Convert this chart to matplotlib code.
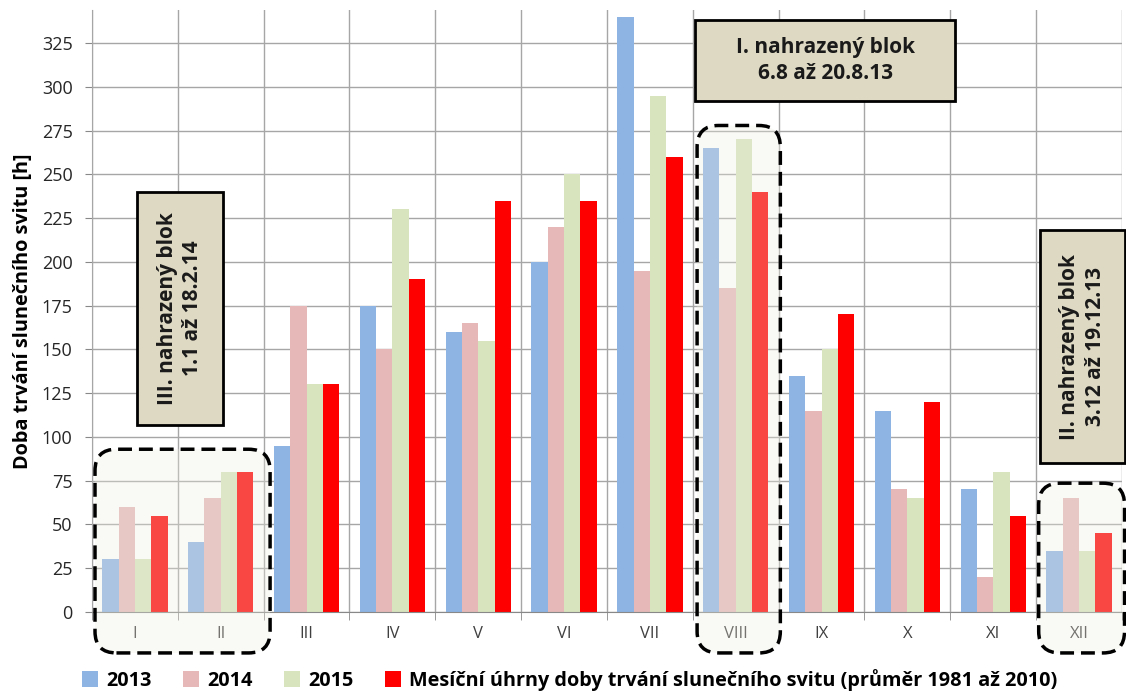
import numpy as np
import matplotlib
matplotlib.use("Agg")
import matplotlib.pyplot as plt
from matplotlib.patches import FancyBboxPatch, Rectangle

plt.rcParams['font.family'] = ['Open Sans', 'DejaVu Sans']

# data
months = ['I', 'II', 'III', 'IV', 'V', 'VI', 'VII', 'VIII', 'IX', 'X', 'XI', 'XII']
y2013 = [30, 40, 95, 175, 160, 200, 340, 265, 135, 115, 70, 35]
y2014 = [60, 65, 175, 150, 165, 220, 195, 185, 115, 70, 20, 65]
y2015 = [30, 80, 130, 230, 155, 250, 295, 270, 150, 65, 80, 35]
prumer = [55, 80, 130, 190, 235, 235, 260, 240, 170, 120, 55, 45]
labels = ['2013', '2014', '2015',
          'Mesíční úhrny doby trvání slunečního svitu (průměr 1981 až 2010)']
colors = ['#8EB4E3', '#E6B9B8', '#D7E4BD', '#FF0000']

fig = plt.figure(figsize=(11.26, 6.93), dpi=100)
ax = fig.add_axes([0.0817, 0.1169, 0.9147, 0.8687])

x = np.arange(len(months))
w = 0.19
series = [y2013, y2014, y2015, prumer]
for i, (vals, c, lab) in enumerate(zip(series, colors, labels)):
    ax.bar(x + (i - 1.5) * w, vals, w, color=c, label=lab, zorder=2)

ax.set_xlim(-0.5, 11.5)
ax.set_ylim(0, 344)
ax.set_yticks(np.arange(0, 326, 25))
ax.set_xticks(x)
ax.set_xticklabels(months)
ax.set_xticks(np.arange(-0.5, 12, 1), minor=True)
ax.tick_params(axis='x', which='major', length=0, pad=10, labelsize=12, labelcolor='#404040')
ax.tick_params(axis='x', which='minor', length=6, color='#888888')
ax.tick_params(axis='y', length=5, pad=9, color='#888888', labelsize=13, labelcolor='#262626')
ax.grid(True, axis='y', color='#A6A6A6', lw=1)
ax.grid(True, axis='x', which='minor', color='#A6A6A6', lw=1)
ax.set_axisbelow(True)
for s in ['top', 'right']:
    ax.spines[s].set_visible(False)
ax.spines['left'].set_color('#A6A6A6')
ax.spines['bottom'].set_color('#888888')

ax.set_ylabel('Doba trvání slunečního svitu [h]', fontsize=14.3, fontweight='bold', labelpad=6)

# dashed regions of replaced blocks
asp = (0.9147 * 1126 / 12) / (0.8687 * 693 / 344)
for x0, x1, y1 in [(-0.465, 1.575, 93), (6.55, 7.52, 278), (10.53, 11.53, 73.6)]:
    p = FancyBboxPatch((x0, -23.4), x1 - x0, y1 + 23.4,
                       boxstyle='round,pad=0,rounding_size=0.25', mutation_aspect=asp,
                       facecolor='#EEECE1', alpha=0.3, edgecolor='none',
                       zorder=3, clip_on=False)
    ax.add_patch(p)
    p = FancyBboxPatch((x0, -23.4), x1 - x0, y1 + 23.4,
                       boxstyle='round,pad=0,rounding_size=0.25', mutation_aspect=asp,
                       facecolor='none', edgecolor='black', lw=2.5, ls=(0, (4, 2)),
                       zorder=4, clip_on=False)
    ax.add_patch(p)

# text boxes
boxes = [
    (6.53, 9.56, 292, 338, 0, 'I. nahrazený blok\n6.8 až 20.8.13'),
    (0.02, 1.03, 107, 240, 90, 'III. nahrazený blok\n1.1 až 18.2.14'),
    (10.54, 11.54, 85, 218, 90, 'II. nahrazený blok\n3.12 až 19.12.13'),
]
for x0, x1, y0, y1, rot, txt in boxes:
    ax.add_patch(Rectangle((x0, y0), x1 - x0, y1 - y0, facecolor='#DDD9C3',
                           edgecolor='black', lw=2, zorder=5, clip_on=False))
    ax.text((x0 + x1) / 2, (y0 + y1) / 2, txt, ha='center', va='center',
            rotation=rot, fontsize=15, fontweight='bold', linespacing=1.3,
            color='#1a1a1a', zorder=6)

fig.legend(loc='center', bbox_to_anchor=(0.506, 0.019), ncol=4, frameon=False,
           prop={'size': 14.3, 'weight': 'bold'}, handlelength=0.8, handleheight=0.8,
           handletextpad=0.4, columnspacing=1.6, borderaxespad=0)

fig.savefig('out.png', dpi=100)
